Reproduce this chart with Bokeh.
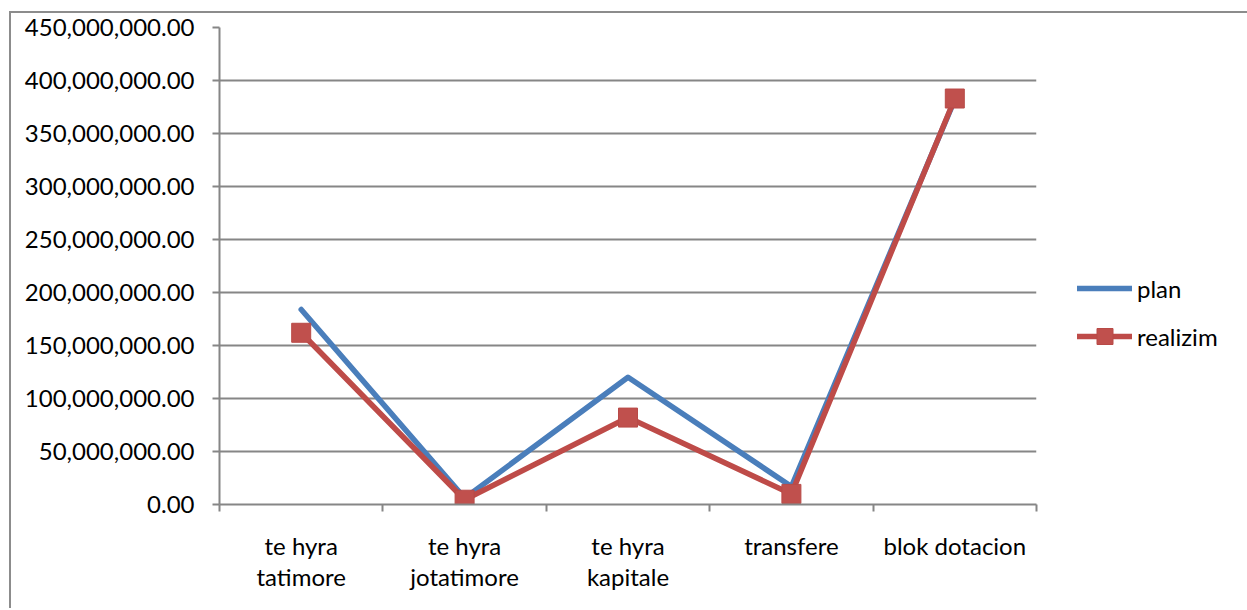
from bokeh.plotting import figure
from bokeh.models import (ColumnDataSource, Range1d, FixedTicker, NumeralTickFormatter,
                          Legend, LegendItem)
from bokeh.embed import file_html
from bokeh.resources import INLINE

categories = ["te hyra\ntatimore", "te hyra\njotatimore", "te hyra\nkapitale", "transfere", "blok dotacion"]
plan = [184e6, 6e6, 120e6, 17e6, 382e6]
realizim = [162e6, 4.5e6, 82e6, 10e6, 383e6]
y_ticks = [0, 50e6, 100e6, 150e6, 200e6, 250e6, 300e6, 350e6, 400e6, 450e6]

xpos = [i + 0.5 for i in range(len(categories))]
src = ColumnDataSource(dict(x=xpos, plan=plan, realizim=realizim))

FONT = "Lato"
GRAY = "#868686"

p = figure(frame_width=817, frame_height=477, output_backend="svg", toolbar_location=None,
           x_range=Range1d(0, len(categories)), y_range=Range1d(0, 450e6),
           min_border_left=208, min_border_top=14, min_border_right=0, min_border_bottom=104)
p.margin = (11, 0, 0, 9)
p.styles = {"border-top": "2px solid #8c8c8c", "border-left": "2px solid #8c8c8c"}
p.outline_line_color = None
p.background_fill_color = "white"
p.border_fill_color = "white"

# y axis
p.yaxis.ticker = FixedTicker(ticks=y_ticks, minor_ticks=[])
p.yaxis.formatter = NumeralTickFormatter(format="0,0.00")
p.yaxis.axis_line_color = GRAY
p.yaxis.axis_line_width = 2
p.yaxis.major_tick_line_color = GRAY
p.yaxis.major_tick_line_width = 2
p.yaxis.major_tick_in = 0
p.yaxis.major_tick_out = 7
p.yaxis.major_label_standoff = 18
p.yaxis.major_label_text_font = FONT
p.yaxis.major_label_text_font_size = "24px"
p.yaxis.major_label_text_color = "black"

# x axis: labels at centers, boundary ticks as minor ticks
p.xaxis.ticker = FixedTicker(ticks=xpos, minor_ticks=list(range(len(categories) + 1)))
p.xaxis.major_label_overrides = {x: c for x, c in zip(xpos, categories)}
p.xaxis.axis_line_color = GRAY
p.xaxis.axis_line_width = 2
p.xaxis.major_tick_line_color = None
p.xaxis.major_tick_in = 0
p.xaxis.major_tick_out = 0
p.xaxis.minor_tick_line_color = GRAY
p.xaxis.minor_tick_line_width = 2
p.xaxis.minor_tick_in = 0
p.xaxis.minor_tick_out = 7
p.xaxis.major_label_standoff = 19
p.xaxis.major_label_text_font = FONT
p.xaxis.major_label_text_font_size = "24px"
p.xaxis.major_label_text_color = "black"
p.xaxis.major_label_text_line_height = 1.1

p.xgrid.grid_line_color = None
p.ygrid.grid_line_color = GRAY
p.ygrid.grid_line_width = 2

r_plan = p.line("x", "plan", source=src, line_color="#4a7ebb", line_width=5.5, line_cap="round", line_join="round")
r_real = p.line("x", "realizim", source=src, line_color="#be4b48", line_width=5.5, line_cap="round", line_join="round")
r_sq = p.scatter("x", "realizim", source=src, marker="square", size=19,
                 fill_color="#c0504d", line_color="#b84a47", line_width=1)

legend = Legend(items=[LegendItem(label="plan", renderers=[r_plan]),
                       LegendItem(label="realizim", renderers=[r_real, r_sq])],
                location="top_left", orientation="vertical")
legend.title = " "
legend.title_text_font_size = "24px"
legend.title_standoff = 172
legend.padding = 0
legend.margin = 41
legend.border_line_color = None
legend.background_fill_alpha = 0
legend.glyph_width = 55
legend.glyph_height = 40
legend.spacing = 8
legend.label_standoff = 5
legend.label_text_font = FONT
legend.label_text_font_size = "24px"
legend.label_text_color = "black"
p.add_layout(legend, "right")

open("out.html", "w").write(file_html(p, INLINE))
